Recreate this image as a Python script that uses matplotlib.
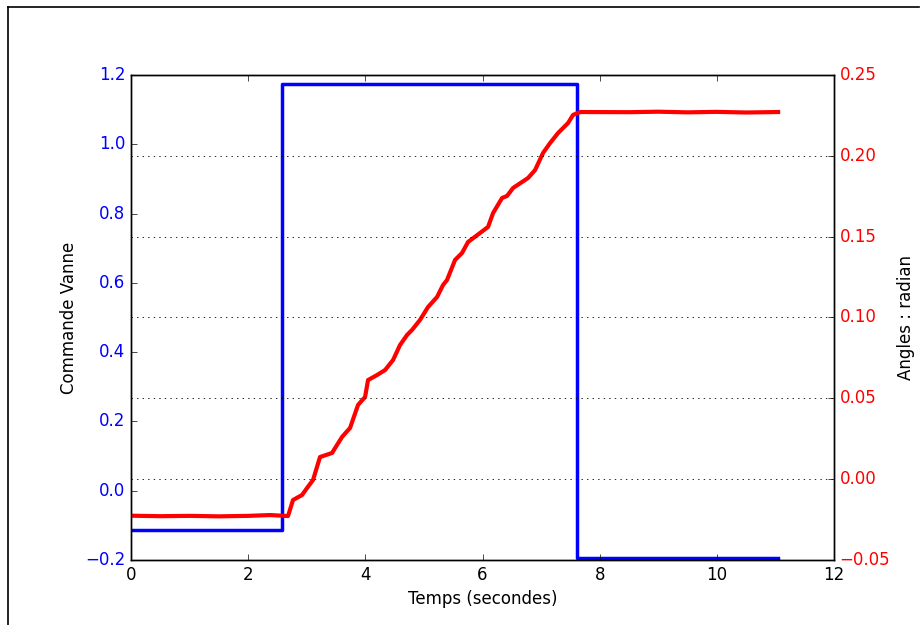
import numpy as np
import matplotlib
matplotlib.use("Agg")
import matplotlib.pyplot as plt
from matplotlib.lines import Line2D

plt.style.use("classic")

# Commande vanne (step)
cmd_t = [0.0, 2.578, 2.578, 7.614, 7.614, 11.045]
cmd_v = [-0.1135, -0.1135, 1.174, 1.174, -0.194, -0.194]

# Angle mesure (radian)
ang_t = [0.0, 0.5, 1.0, 1.5, 2.0, 2.373, 2.68, 2.765, 2.919, 3.004, 3.107,
         3.226, 3.431, 3.602, 3.739, 3.875, 3.995, 4.046, 4.199, 4.336,
         4.473, 4.592, 4.712, 4.797, 4.933, 5.070, 5.224, 5.326, 5.394,
         5.531, 5.650, 5.753, 5.958, 6.094, 6.180, 6.333, 6.419, 6.521,
         6.777, 6.897, 7.033, 7.153, 7.289, 7.460, 7.545, 7.665, 8.5,
         9.0, 9.5, 10.0, 10.5, 11.045]
ang_v = [-0.0226, -0.0229, -0.0227, -0.0230, -0.0227, -0.0222, -0.0228,
         -0.0129, -0.0098, -0.0055, -0.0005, 0.0137, 0.0162, 0.0261,
         0.0317, 0.0459, 0.0508, 0.0613, 0.0644, 0.0675, 0.0737, 0.0830,
         0.0892, 0.0923, 0.0985, 0.1065, 0.1127, 0.1201, 0.1232, 0.1356,
         0.1399, 0.1467, 0.1523, 0.1560, 0.1646, 0.1739, 0.1752, 0.1801,
         0.1863, 0.1912, 0.2018, 0.2079, 0.2141, 0.2203, 0.2253, 0.2271,
         0.2270, 0.2273, 0.2269, 0.2272, 0.2268, 0.2271]

fig = plt.figure(figsize=(9.22, 6.25), dpi=100, facecolor="white")
ax1 = fig.add_axes([0.1421, 0.104, 0.7625, 0.776])
ax1.set_facecolor("white")

ax1.plot(cmd_t, cmd_v, color="b", lw=2.5)
ax1.set_xlim(0, 12)
ax1.set_ylim(-0.2, 1.2)
ax1.set_xlabel("Temps (secondes)", fontsize=12)
ax1.set_ylabel("Commande Vanne", fontsize=12)
for lab in ax1.get_yticklabels():
    lab.set_color("b")
ax1.tick_params(axis="y", colors="k", labelcolor="b", labelsize=12)
ax1.tick_params(axis="x", labelsize=12)

ax2 = ax1.twinx()
ax2.plot(ang_t, ang_v, color="r", lw=3)
ax2.set_ylim(-0.05, 0.25)
ax2.set_ylabel("Angles : radian", fontsize=12)
ax2.tick_params(axis="y", labelcolor="r", labelsize=12)
ax2.yaxis.grid(True, color="k", linestyle=":", linewidth=0.6)
ax1.set_xlim(0, 12)

# cadre de la figure
x0, y0 = 8 / 922, 1 - 7 / 625
fig.add_artist(Line2D([x0, x0], [-0.01, y0], transform=fig.transFigure, color="k", lw=1.2))
fig.add_artist(Line2D([x0, 919 / 922], [y0, y0], transform=fig.transFigure, color="k", lw=1.2))

fig.savefig("out.png", dpi=100, facecolor="white")
